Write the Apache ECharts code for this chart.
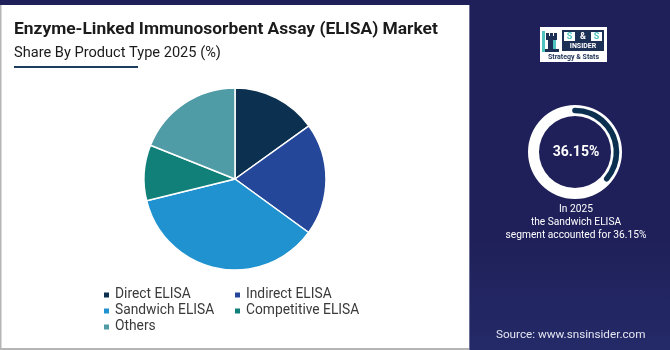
<!DOCTYPE html>
<html>
<head>
<meta charset="utf-8">
<script src="https://cdn.jsdelivr.net/npm/echarts@6/dist/echarts.min.js"></script>
<style>
  html, body { margin: 0; padding: 0; background: #1f2059; }
  #chart { width: 670px; height: 350px; }
</style>
</head>
<body>
<div id="chart"></div>
<script>
// Product-type shares of the ELISA market, 2025 (%)
const categories = ['Direct ELISA', 'Indirect ELISA', 'Sandwich ELISA', 'Competitive ELISA', 'Others'];
const shares = [15.1, 19.9, 36.15, 9.9, 18.95];
const sliceColors = ['#0c3050', '#24479a', '#2192d0', '#118079', '#4f9ba6'];

// Highlighted segment shown in the side panel
const highlightName = 'Sandwich ELISA';
const highlightValue = 36.15;

const titleText = 'Enzyme-Linked Immunosorbent Assay (ELISA) Market';
const subtitleText = 'Share By Product Type 2025 (%)';
const sourceText = 'Source: www.snsinsider.com';

const chart = echarts.init(document.getElementById('chart'), null, { renderer: 'canvas' });

const pieData = categories.map((name, i) => ({
  name: name,
  value: shares[i],
  itemStyle: { color: sliceColors[i] }
}));

const legendText = { fontFamily: 'Roboto', fontSize: 13.8, color: '#3a3a3a' };

// two-column legend: [column, row] slot for each category
const legendSlots = [[0, 0], [1, 0], [0, 1], [1, 1], [0, 2]];
const legends = categories.map((name, i) => ({
  data: [name],
  left: legendSlots[i][0] ? 228 : 97,
  top: 283 + legendSlots[i][1] * 16,
  icon: 'rect', itemWidth: 7, itemHeight: 7,
  selectedMode: false, textStyle: legendText, z: 5
}));

const ringCenter = [575, 152];

chart.setOption({
  backgroundColor: '#1f2059',
  animation: false,
  graphic: [
    // white content panel
    { type: 'rect', shape: { x: 0, y: 5, width: 469, height: 344 }, style: { fill: '#ffffff' }, z: 0 },
    { type: 'rect', shape: { x: 0, y: 5, width: 1.5, height: 344 }, style: { fill: '#b5b5b5' }, z: 1 },
    { type: 'rect', shape: { x: 0, y: 348, width: 469, height: 2 }, style: { fill: '#b5b5b5' }, z: 1 },
    { type: 'rect', shape: { x: 469, y: 5, width: 1, height: 345 }, style: { fill: '#6a6f9a' }, z: 1 },
    // lighter lower band of the navy side panel
    { type: 'rect', shape: { x: 470, y: 240, width: 200, height: 110 },
      style: { fill: new echarts.graphic.LinearGradient(0, 0, 0, 1, [
        { offset: 0, color: '#1f2059' }, { offset: 1, color: '#242a68' }]) }, z: 0 },
    // headings
    { type: 'text', left: 14, top: 21, z: 2,
      style: { text: titleText, fontFamily: 'Roboto', fontWeight: 'bold', fontSize: 17.4, fill: '#1b1b1b' } },
    { type: 'text', left: 14, top: 46, z: 2,
      style: { text: subtitleText, fontFamily: 'Roboto', fontSize: 14.6, fill: '#1b1b1b' } },
    { type: 'rect', shape: { x: 14, y: 66, width: 124, height: 2 }, style: { fill: '#1d3d5f' }, z: 2 },
    // logo
    { type: 'group', left: 540, top: 27, z: 3, children: [
      { type: 'rect', shape: { x: 0, y: 0, width: 67, height: 35 }, style: { fill: '#ffffff' } },
      // rook emblem
      { type: 'rect', shape: { x: 6, y: 6, width: 3, height: 3 }, style: { fill: '#1c2f55' } },
      { type: 'rect', shape: { x: 10, y: 6, width: 3, height: 3 }, style: { fill: '#1c2f55' } },
      { type: 'rect', shape: { x: 14, y: 6, width: 3, height: 3 }, style: { fill: '#1c2f55' } },
      { type: 'rect', shape: { x: 6, y: 9, width: 11, height: 4 }, style: { fill: '#1c2f55' } },
      { type: 'rect', shape: { x: 8, y: 13, width: 7, height: 11 }, style: { fill: '#1c2f55' } },
      { type: 'rect', shape: { x: 13, y: 13, width: 3, height: 11 }, style: { fill: '#4fc3c0' } },
      { type: 'rect', shape: { x: 5, y: 22, width: 14, height: 3 }, style: { fill: '#1c2f55' } },
      { type: 'rect', shape: { x: 2, y: 4, width: 3, height: 21 }, style: { fill: '#4fc3c0' } },
      // S & S
      { type: 'rect', shape: { x: 22, y: 3, width: 42, height: 21 }, style: { fill: '#1c2f55' } },
      { type: 'rect', shape: { x: 24, y: 5, width: 11, height: 9 }, style: { fill: '#ffffff' } },
      { type: 'rect', shape: { x: 51, y: 5, width: 11, height: 9 }, style: { fill: '#ffffff' } },
      { type: 'text', style: { x: 29.5, y: 9.5, text: 'S', fontFamily: 'Roboto', fontWeight: 'bold', fontSize: 9, fill: '#4fc3c0', align: 'center', verticalAlign: 'middle' } },
      { type: 'text', style: { x: 43, y: 9.5, text: '&', fontFamily: 'Roboto', fontWeight: 'bold', fontSize: 9, fill: '#ffffff', align: 'center', verticalAlign: 'middle' } },
      { type: 'text', style: { x: 56.5, y: 9.5, text: 'S', fontFamily: 'Roboto', fontWeight: 'bold', fontSize: 9, fill: '#4fc3c0', align: 'center', verticalAlign: 'middle' } },
      { type: 'text', style: { x: 43, y: 19.5, text: 'INSIDER', fontFamily: 'Roboto', fontWeight: 'bold', fontSize: 7, fill: '#ffffff', align: 'center', verticalAlign: 'middle' } },
      { type: 'text', style: { x: 33.5, y: 30, text: 'Strategy & Stats', fontFamily: 'Roboto', fontWeight: 'bold', fontSize: 7, fill: '#1c2f55', align: 'center', verticalAlign: 'middle' } }
    ] },
    // highlight value and caption
    { type: 'text', z: 3, style: { x: ringCenter[0] + 1, y: ringCenter[1], text: highlightValue.toFixed(2) + '%', fontFamily: 'Roboto', fontWeight: 'bold', fontSize: 14, fill: '#ffffff', align: 'center', verticalAlign: 'middle' } },
    { type: 'text', z: 3, style: { x: 576, y: 202.5, text: 'In 2025\nthe ' + highlightName + '\nsegment accounted for ' + highlightValue.toFixed(2) + '%', fontFamily: 'Roboto', fontSize: 10.2, lineHeight: 13, fill: '#ffffff', align: 'center', verticalAlign: 'top' } },
    { type: 'text', z: 3, style: { x: 496, y: 335, text: sourceText, fontFamily: 'Roboto', fontSize: 11.7, fill: '#e4e5f0', verticalAlign: 'middle' } }
  ],
  legend: legends,
  series: [
    {
      type: 'pie', z: 5,
      center: [235, 179], radius: 91, startAngle: 90, clockwise: true,
      label: { show: false }, labelLine: { show: false }, silent: true,
      itemStyle: { borderColor: '#ffffff', borderWidth: 1.5 },
      data: pieData
    },
    // white ring
    {
      type: 'gauge', center: ringCenter, radius: 47, startAngle: 90, endAngle: -270,
      min: 0, max: 100, pointer: { show: false }, progress: { show: false },
      axisLine: { lineStyle: { width: 11, color: [[1, '#ffffff']] } },
      axisTick: { show: false }, splitLine: { show: false }, axisLabel: { show: false },
      detail: { show: false }, title: { show: false }, data: [{ value: 0 }], silent: true
    },
    // share arc drawn inside the ring
    {
      type: 'gauge', center: ringCenter, radius: 44.3, startAngle: 90, endAngle: -270,
      min: 0, max: 100, pointer: { show: false },
      progress: { show: true, width: 5.6, roundCap: true, itemStyle: { color: '#0c3050' } },
      axisLine: { show: false, lineStyle: { width: 5.6, opacity: 0 } },
      axisTick: { show: false }, splitLine: { show: false }, axisLabel: { show: false },
      detail: { show: false }, title: { show: false }, data: [{ value: highlightValue }], silent: true
    }
  ]
});
</script>
</body>
</html>
